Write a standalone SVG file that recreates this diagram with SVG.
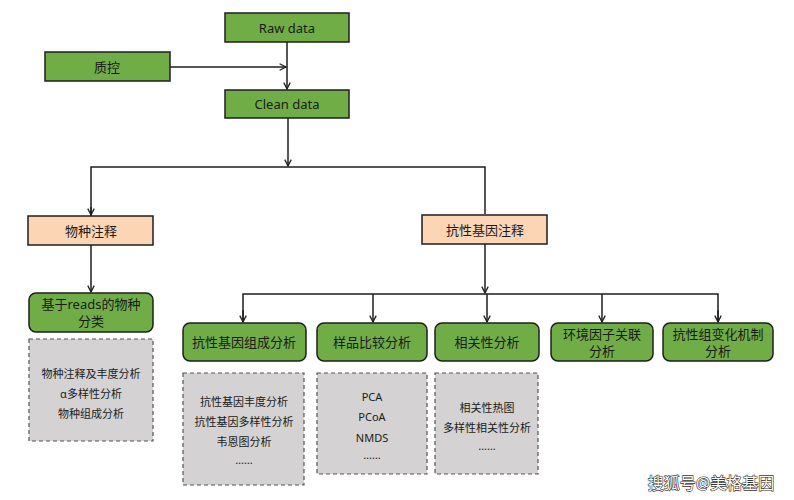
<svg xmlns="http://www.w3.org/2000/svg" width="794" height="500" viewBox="0 0 794 500">
<style>
  text { font-family: "Noto Sans", "Noto Sans CJK SC", sans-serif; fill: #1a1a1a; text-anchor: middle; dominant-baseline: central; }
  .lbl { font-size: 13px; }
  .sm { font-size: 11px; }
  .g { fill: #70AD47; stroke: #1e1e1e; stroke-width: 1.5; }
  .p { fill: #FCD5B5; stroke: #1e1e1e; stroke-width: 1.5; }
  .d { fill: #D4D2D2; stroke: #555; stroke-width: 1.2; stroke-dasharray: 4 3; }
  .c { fill: none; stroke: #1e1e1e; stroke-width: 1.5; }
  .wm { font-size: 16px; fill: #fff; stroke: #333; stroke-width: 1.2; paint-order: stroke; }
</style>
<defs>
  <marker id="ah" viewBox="0 0 10 10" refX="9" refY="5" markerWidth="8" markerHeight="8" markerUnits="userSpaceOnUse" orient="auto">
    <polyline points="1,1 9,5 1,9" fill="none" stroke="#1e1e1e" stroke-width="1.6"/>
  </marker>
</defs>
<g id="connectors">
  <line class="c" x1="287" y1="42" x2="287" y2="89" marker-end="url(#ah)"/>
  <line class="c" x1="170" y1="67" x2="286" y2="67" marker-end="url(#ah)"/>
  <line class="c" x1="288" y1="118" x2="288" y2="166" marker-end="url(#ah)"/>
  <polyline class="c" points="91,216 91,167 485,167 485,214"/>
  <line class="c" x1="91" y1="207" x2="91" y2="215" marker-end="url(#ah)"/>
  <line class="c" x1="91" y1="245" x2="91" y2="292" marker-end="url(#ah)"/>
  <line class="c" x1="485" y1="244" x2="485" y2="293" marker-end="url(#ah)"/>
  <polyline class="c" points="243,322 243,294 718,294 718,322"/>
  <line class="c" x1="243" y1="310" x2="243" y2="322" marker-end="url(#ah)"/>
  <line class="c" x1="718" y1="310" x2="718" y2="322" marker-end="url(#ah)"/>
  <line class="c" x1="373" y1="294" x2="373" y2="322" marker-end="url(#ah)"/>
  <line class="c" x1="487" y1="294" x2="487" y2="322" marker-end="url(#ah)"/>
  <line class="c" x1="602" y1="294" x2="602" y2="322" marker-end="url(#ah)"/>
</g>
<g id="raw"><rect class="g" x="225" y="13" width="124" height="29"/><text class="lbl" x="287" y="27.5">Raw data</text></g>
<g id="qc"><rect class="g" x="45" y="52" width="125" height="29"/><text class="lbl" x="107" y="66.5">质控</text></g>
<g id="clean"><rect class="g" x="225" y="90" width="124" height="28"/><text class="lbl" x="287" y="104">Clean data</text></g>
<g id="species"><rect class="p" x="28" y="216" width="125" height="29"/><text class="lbl" x="91" y="230.5">物种注释</text></g>
<g id="arg"><rect class="p" x="422" y="215" width="125" height="29"/><text class="lbl" x="485" y="229.5">抗性基因注释</text></g>
<g id="reads"><rect class="g" x="29" y="293" width="124" height="39" rx="7"/><text class="lbl" x="91" y="304">基于reads的物种</text><text class="lbl" x="91" y="321">分类</text></g>
<g id="comp"><rect class="g" x="183" y="323" width="123" height="38" rx="7"/><text class="lbl" x="244" y="342">抗性基因组成分析</text></g>
<g id="sample"><rect class="g" x="317" y="323" width="110" height="38" rx="7"/><text class="lbl" x="372" y="342">样品比较分析</text></g>
<g id="corr"><rect class="g" x="435" y="323" width="104" height="38" rx="7"/><text class="lbl" x="487" y="342">相关性分析</text></g>
<g id="env"><rect class="g" x="551" y="323" width="102" height="38" rx="7"/><text class="lbl" x="602" y="334">环境因子关联</text><text class="lbl" x="602" y="351">分析</text></g>
<g id="mech"><rect class="g" x="663" y="323" width="110" height="38" rx="7"/><text class="lbl" x="718" y="334">抗性组变化机制</text><text class="lbl" x="718" y="351">分析</text></g>
<g id="box1"><rect class="d" x="29" y="339" width="124" height="102"/>
  <text class="sm" x="91" y="373">物种注释及丰度分析</text><text class="sm" x="91" y="393">α多样性分析</text><text class="sm" x="91" y="413">物种组成分析</text></g>
<g id="box2"><rect class="d" x="183" y="373" width="121" height="112"/>
  <text class="sm" x="244" y="401">抗性基因丰度分析</text><text class="sm" x="244" y="421">抗性基因多样性分析</text><text class="sm" x="244" y="441">韦恩图分析</text><text class="sm" x="244" y="459">……</text></g>
<g id="box3"><rect class="d" x="317" y="373" width="110" height="101"/>
  <text class="sm" x="372" y="396">PCA</text><text class="sm" x="372" y="416">PCoA</text><text class="sm" x="372" y="437">NMDS</text><text class="sm" x="372" y="454">……</text></g>
<g id="box4"><rect class="d" x="435" y="373" width="103" height="101"/>
  <text class="sm" x="487" y="407">相关性热图</text><text class="sm" x="487" y="427">多样性相关性分析</text><text class="sm" x="487" y="445">……</text></g>
<text class="wm" x="711" y="483">搜狐号@美格基因</text>
</svg>
